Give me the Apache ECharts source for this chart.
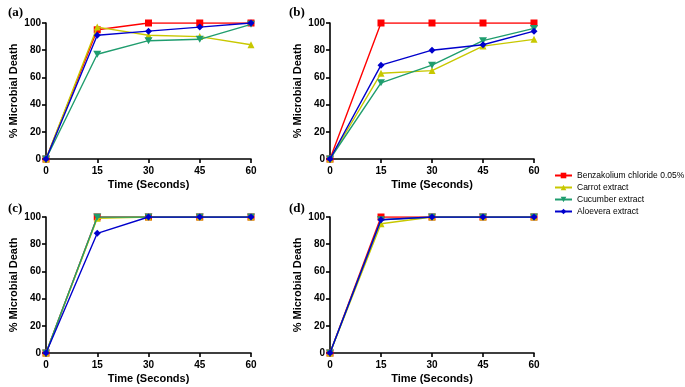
<!DOCTYPE html>
<html>
<head>
<meta charset="utf-8">
<script src="https://cdn.jsdelivr.net/npm/echarts@6/dist/echarts.min.js"></script>
<style>
  html, body { margin: 0; padding: 0; background: #fff; }
  #main { width: 685px; height: 387px; }
</style>
</head>
<body>
<div id="main"></div>
<script>
// time points (seconds)
var times = [0, 15, 30, 45, 60];
var seriesNames = ["Benzakolium chloride 0.05%", "Carrot extract", "Cucumber extract", "Aloevera extract"];
var panelLabels = ["(a)", "(b)", "(c)", "(d)"];

// % microbial death per panel, per series
var panelA_benz = [0, 95, 100, 100, 100];
var panelA_carrot = [0, 97, 91, 90, 84];
var panelA_cucumber = [0, 77, 87, 88, 99];
var panelA_aloe = [0, 91, 94, 97, 100];

var panelB_benz = [0, 100, 100, 100, 100];
var panelB_carrot = [0, 63, 65, 83, 88];
var panelB_cucumber = [0, 56, 69, 87, 96];
var panelB_aloe = [0, 69, 80, 84, 94];

var panelC_benz = [0, 100, 100, 100, 100];
var panelC_carrot = [0, 99, 100, 100, 100];
var panelC_cucumber = [0, 100, 100, 100, 100];
var panelC_aloe = [0, 88, 100, 100, 100];

var panelD_benz = [0, 100, 100, 100, 100];
var panelD_carrot = [0, 95, 100, 100, 100];
var panelD_cucumber = [0, 98, 100, 100, 100];
var panelD_aloe = [0, 98, 100, 100, 100];

var panels = [
  [panelA_benz, panelA_carrot, panelA_cucumber, panelA_aloe],
  [panelB_benz, panelB_carrot, panelB_cucumber, panelB_aloe],
  [panelC_benz, panelC_carrot, panelC_cucumber, panelC_aloe],
  [panelD_benz, panelD_carrot, panelD_cucumber, panelD_aloe]
];

var colors = ["#ff0000", "#c8c800", "#1f9d6e", "#0000cc"];
var symbols = ["rect", "triangle", "path://M0,0 L10,0 L5,9 Z", "diamond"];

var grids = [
  { left: 46, top: 23, width: 205, height: 136 },
  { left: 330, top: 23, width: 204, height: 136 },
  { left: 46, top: 217, width: 205, height: 136 },
  { left: 330, top: 217, width: 204, height: 136 }
];
var titlePos = [[3, 1], [284, 1], [3, 197], [284, 197]];

var font = "Liberation Sans, Arial, sans-serif";
var axisLine = { show: true, onZero: false, lineStyle: { color: "#000", width: 1.6 } };
var axisTick = { show: true, length: 4, lineStyle: { color: "#000", width: 1.6 } };

var xAxes = [], yAxes = [], series = [], titles = [];
grids.forEach(function (g, i) {
  xAxes.push({
    gridIndex: i, type: "value", min: 0, max: 60, interval: 15,
    name: "Time (Seconds)", nameLocation: "middle", nameGap: 20,
    nameTextStyle: { fontFamily: font, fontWeight: "bold", fontSize: 11, color: "#000" },
    axisLine: axisLine, axisTick: axisTick, splitLine: { show: false },
    axisLabel: { fontFamily: font, fontWeight: "bold", fontSize: 10, color: "#000", margin: 7 }
  });
  yAxes.push({
    gridIndex: i, type: "value", min: 0, max: 100, interval: 20,
    name: "% Microbial Death", nameLocation: "middle", nameGap: 27,
    nameTextStyle: { fontFamily: font, fontWeight: "bold", fontSize: 11, color: "#000" },
    axisLine: axisLine, axisTick: axisTick, splitLine: { show: false },
    axisLabel: { fontFamily: font, fontWeight: "bold", fontSize: 10, color: "#000", margin: 5 }
  });
  titles.push({
    text: panelLabels[i], left: titlePos[i][0], top: titlePos[i][1],
    textStyle: { fontFamily: "Liberation Serif, Times New Roman, serif", fontWeight: "bold", fontSize: 13, color: "#000" }
  });
  panels[i].forEach(function (vals, s) {
    series.push({
      name: seriesNames[s], type: "line", xAxisIndex: i, yAxisIndex: i,
      data: times.map(function (t, k) { return [t, vals[k]]; }),
      symbol: symbols[s], symbolSize: s === 2 ? [8, 7] : 7,
      color: colors[s],
      lineStyle: { width: 1.4, color: colors[s] },
      itemStyle: { color: colors[s] },
      z: 2 + s
    });
  });
});

var chart = echarts.init(document.getElementById("main"));
chart.setOption({
  animation: false,
  backgroundColor: "#fff",
  title: titles,
  grid: grids,
  xAxis: xAxes,
  yAxis: yAxes,
  legend: {
    data: seriesNames, orient: "vertical", left: 549, top: 166,
    itemWidth: 17, itemHeight: 7, itemGap: 3,
    textStyle: { fontFamily: font, fontSize: 8.5, color: "#000" }
  },
  series: series
});
</script>
</body>
</html>
